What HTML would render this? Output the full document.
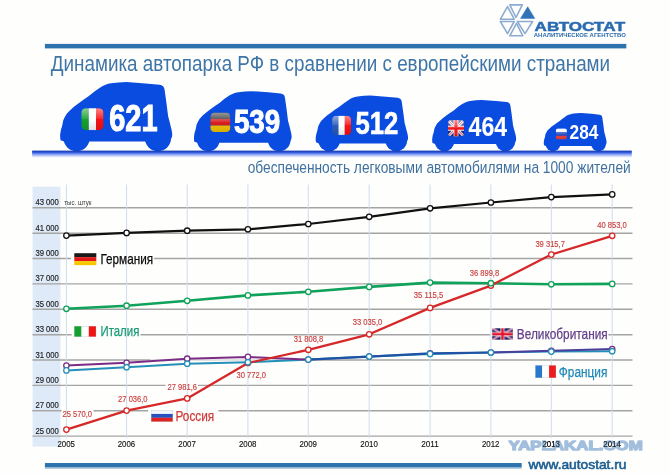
<!DOCTYPE html>
<html><head><meta charset="utf-8"><title>Автостат</title>
<style>
html,body{margin:0;padding:0;background:#fefefd;}
body{width:670px;height:475px;overflow:hidden;font-family:"Liberation Sans",sans-serif;}
svg{display:block;will-change:transform;font-family:"Liberation Sans",sans-serif;}
</style></head><body>
<svg width="670" height="475" viewBox="0 0 670 475">
<defs>
<linearGradient id="shade" x1="0" y1="0" x2="0" y2="1">
<stop offset="0" stop-color="#1a3cae"/><stop offset="0.16" stop-color="#1f48c8"/><stop offset="0.3" stop-color="#2f5ae2" stop-opacity="0.95"/><stop offset="0.6" stop-color="#4f74f0" stop-opacity="0.55"/><stop offset="1" stop-color="#6b8af6" stop-opacity="0"/>
</linearGradient>
<linearGradient id="gloss" x1="0" y1="0" x2="0" y2="1">
<stop offset="0" stop-color="#fff" stop-opacity="0.5"/><stop offset="0.48" stop-color="#fff" stop-opacity="0.1"/><stop offset="0.51" stop-color="#000" stop-opacity="0.0"/><stop offset="1" stop-color="#000" stop-opacity="0.12"/>
</linearGradient>
<g id="car"><path d="M0,52 L0.8,47.2 L1.8,44.2 L3,38.3 L4.2,35.6 L6.5,31.5 L9.9,28 L14,24.3 L18.75,20.75 L23.5,17.3 L28.2,14.1 L29.8,12.8 L34.5,9 L39.9,5.2 C41.3,4.3 42.6,3.6 44,3 C45.6,2.3 47.2,1.8 48.8,1.4 C50.2,1.1 51.6,0.8 53,0.7 L58.2,0.2 L66,-0.2 L85,1.2 L99,2.6 C102,3 103.5,4.5 103.9,6.9 L105.7,19.5 L107.5,33.8 C108.5,38 109.5,41 110.2,44.5 C111,47 111.6,50 111.6,51.7 C111.7,54 111.3,55 111.1,55.3 C110.7,56.5 110,57.5 109,58.2 L107,59.3 L4,59.3 L0.4,58 C0,56.5 -0.1,54 0,52 Z"/><circle cx="16.3" cy="56.1" r="13"/><circle cx="97.4" cy="56.1" r="13"/></g>
<clipPath id="fclip"><rect x="0" y="0" width="22" height="22" rx="4.8" ry="4.8"/></clipPath>
</defs>
<rect width="670" height="475" fill="#fefefd"/>

<g id="logo" fill="none" stroke="#8eabd0" stroke-width="1.6" stroke-linejoin="round">
<polygon points="509.8,4.9 522.3,4.9 516,17.5"/>
<polygon points="507.5,6.7 500.4,19.2 514.2,19.2"/>
<polygon points="500.4,21.5 514.2,21.5 507.5,33.6"/>
<polygon points="516.5,23.3 509.8,35.8 522.8,35.8"/>
<polygon points="517.4,21.5 532.6,21.5 525,33.6"/>
<polygon points="527.7,6.7 520.5,18.4 534.8,18.4" fill="#2f72b8" stroke="#2f72b8" stroke-width="0.5"/>
</g>
<text x="534.6" y="30.8" font-size="12.9" font-weight="bold" fill="#2b6bb0" stroke="#2b6bb0" stroke-width="0.5" textLength="90.6" lengthAdjust="spacingAndGlyphs">АВТОСТАТ</text>
<text x="533.8" y="37.3" font-size="5.3" font-weight="bold" fill="#2b6bb0" textLength="92" lengthAdjust="spacingAndGlyphs">АНАЛИТИЧЕСКОЕ АГЕНТСТВО</text>
<rect x="44.9" y="43.9" width="581.4" height="4.5" fill="#2d73ae"/>
<text x="50.8" y="70.6" font-size="22.5" fill="#3f75a6" textLength="559.3" lengthAdjust="spacingAndGlyphs">Динамика автопарка РФ в сравнении с европейскими странами</text>
<text x="247.7" y="172.6" font-size="17.2" fill="#3f719f" textLength="383" lengthAdjust="spacingAndGlyphs">обеспеченность легковыми автомобилями на 1000 жителей</text>
<use href="#car" transform="translate(60.2,82.20) scale(1.0036,1.0000)" fill="#0a4be0"/>
<use href="#car" transform="translate(194,91.30) scale(0.8747,0.8683)" fill="#0a4be0"/>
<use href="#car" transform="translate(315.7,95.70) scale(0.8272,0.8046)" fill="#0a4be0"/>
<use href="#car" transform="translate(432.2,100.20) scale(0.7520,0.7395)" fill="#0a4be0"/>
<use href="#car" transform="translate(543.8,113.20) scale(0.5622,0.5514)" fill="#0a4be0"/>
<rect x="32.1" y="150.6" width="599.7" height="7.2" fill="url(#shade)"/>
<text x="109.2" y="131.4" font-size="37" font-weight="bold" fill="#fff" stroke="#fff" stroke-width="1.11" textLength="48.3" lengthAdjust="spacingAndGlyphs">621</text>
<text x="233.9" y="132.8" font-size="33.6" font-weight="bold" fill="#fff" stroke="#fff" stroke-width="1.01" textLength="46.3" lengthAdjust="spacingAndGlyphs">539</text>
<text x="355.6" y="134.2" font-size="32.2" font-weight="bold" fill="#fff" stroke="#fff" stroke-width="0.64" textLength="42.8" lengthAdjust="spacingAndGlyphs">512</text>
<text x="468.6" y="135.6" font-size="28.3" font-weight="bold" fill="#fff" stroke="#fff" stroke-width="0.14" textLength="38.4" lengthAdjust="spacingAndGlyphs">464</text>
<text x="569.6" y="139.0" font-size="20.5" font-weight="bold" fill="#fff" stroke="#fff" stroke-width="0.00" textLength="28.9" lengthAdjust="spacingAndGlyphs">284</text>
<g transform="translate(81.3,108.2) scale(1.0091,1.0000)"><g clip-path="url(#fclip)"><rect width="7.4" height="22" fill="#14a22c"/><rect x="7.4" width="7.3" height="22" fill="#fff"/><rect x="14.7" width="7.3" height="22" fill="#fc1010"/><rect width="22" height="22" fill="url(#gloss)"/></g></g>
<g transform="translate(210.3,112.5) scale(0.9136,0.8864)"><g clip-path="url(#fclip)"><rect width="22" height="7.4" fill="#333"/><rect y="7.4" width="22" height="7.3" fill="#d81e1e"/><rect y="14.7" width="22" height="7.3" fill="#f5c400"/><rect width="22" height="22" fill="url(#gloss)"/></g></g>
<g transform="translate(332.1,115.7) scale(0.8636,0.8727)"><g clip-path="url(#fclip)"><rect width="7.4" height="22" fill="#2a5cb8"/><rect x="7.4" width="7.3" height="22" fill="#fff"/><rect x="14.7" width="7.3" height="22" fill="#fc1010"/><rect width="22" height="22" fill="url(#gloss)"/></g></g>
<g transform="translate(448,120.1) scale(0.7273,0.7409)"><g clip-path="url(#fclip)"><rect width="22" height="22" fill="#1c2a86"/><path d="M0,0L22,22M22,0L0,22" stroke="#fff" stroke-width="3.8"/><path d="M0,0L22,22M22,0L0,22" stroke="#e8283a" stroke-width="1.3"/><path d="M11,0V22M0,11H22" stroke="#fff" stroke-width="6.6"/><path d="M11,0V22M0,11H22" stroke="#f01a1e" stroke-width="4.3"/><rect width="22" height="22" fill="url(#gloss)"/></g></g>
<g transform="translate(555.8,128.4) scale(0.5045,0.5045)"><g clip-path="url(#fclip)"><rect width="22" height="7.4" fill="#f0f5ff"/><rect y="7.4" width="22" height="7.3" fill="#2a50c4"/><rect y="14.7" width="22" height="7.3" fill="#f04040"/><rect width="22" height="22" fill="url(#gloss)"/></g></g>
<rect x="32.6" y="186.6" width="27.8" height="260" fill="#deeaf8"/>
<line x1="32.5" y1="207.8" x2="632.5" y2="207.8" stroke="#a4a4a4" stroke-width="1.4"/>
<line x1="32.5" y1="233.2" x2="632.5" y2="233.2" stroke="#a4a4a4" stroke-width="1.4"/>
<line x1="32.5" y1="258.5" x2="632.5" y2="258.5" stroke="#a4a4a4" stroke-width="1.4"/>
<line x1="32.5" y1="283.9" x2="632.5" y2="283.9" stroke="#a4a4a4" stroke-width="1.4"/>
<line x1="32.5" y1="309.3" x2="632.5" y2="309.3" stroke="#a4a4a4" stroke-width="1.4"/>
<line x1="32.5" y1="334.7" x2="632.5" y2="334.7" stroke="#a4a4a4" stroke-width="1.4"/>
<line x1="32.5" y1="360.0" x2="632.5" y2="360.0" stroke="#a4a4a4" stroke-width="1.4"/>
<line x1="32.5" y1="385.4" x2="632.5" y2="385.4" stroke="#a4a4a4" stroke-width="1.4"/>
<line x1="32.5" y1="410.8" x2="632.5" y2="410.8" stroke="#a4a4a4" stroke-width="1.4"/>
<line x1="32.5" y1="436.1" x2="632.5" y2="436.1" stroke="#a4a4a4" stroke-width="1.4"/>
<rect x="71" y="256.4" width="83.0" height="4" fill="#fefefd"/>
<rect x="71.7" y="332.9" width="68.7" height="4" fill="#fefefd"/>
<rect x="148.2" y="408.7" width="70.2" height="4" fill="#fefefd"/>
<rect x="490.4" y="332.9" width="118.0" height="4" fill="#fefefd"/>
<rect x="61.5" y="408.7" width="32.0" height="4" fill="#fefefd"/>
<rect x="165.5" y="382.8" width="32.5" height="4" fill="#fefefd"/>
<rect x="32.6" y="408" width="27.8" height="5" fill="#deeaf8"/>
<line x1="32.5" y1="410.7" x2="61" y2="410.7" stroke="#a4a4a4" stroke-width="1.4"/>
<line x1="66.4" y1="184.5" x2="66.4" y2="438" stroke="#cfdcea" stroke-width="1"/>
<line x1="126.6" y1="184.5" x2="126.6" y2="438" stroke="#cfdcea" stroke-width="1"/>
<line x1="187.2" y1="184.5" x2="187.2" y2="438" stroke="#cfdcea" stroke-width="1"/>
<line x1="247.9" y1="184.5" x2="247.9" y2="438" stroke="#cfdcea" stroke-width="1"/>
<line x1="308.3" y1="184.5" x2="308.3" y2="438" stroke="#cfdcea" stroke-width="1"/>
<line x1="369.2" y1="184.5" x2="369.2" y2="438" stroke="#cfdcea" stroke-width="1"/>
<line x1="430.1" y1="184.5" x2="430.1" y2="438" stroke="#cfdcea" stroke-width="1"/>
<line x1="490.9" y1="184.5" x2="490.9" y2="438" stroke="#cfdcea" stroke-width="1"/>
<line x1="551.3" y1="184.5" x2="551.3" y2="438" stroke="#cfdcea" stroke-width="1"/>
<line x1="612.2" y1="184.5" x2="612.2" y2="438" stroke="#cfdcea" stroke-width="1"/>
<text x="35.4" y="205.3" font-size="8.5" fill="#1c1c1c" stroke="#1c1c1c" stroke-width="0.15" textLength="23.5" lengthAdjust="spacingAndGlyphs">43 000</text>
<text x="35.4" y="230.7" font-size="8.5" fill="#1c1c1c" stroke="#1c1c1c" stroke-width="0.15" textLength="23.5" lengthAdjust="spacingAndGlyphs">41 000</text>
<text x="35.4" y="256.0" font-size="8.5" fill="#1c1c1c" stroke="#1c1c1c" stroke-width="0.15" textLength="23.5" lengthAdjust="spacingAndGlyphs">39 000</text>
<text x="35.4" y="281.4" font-size="8.5" fill="#1c1c1c" stroke="#1c1c1c" stroke-width="0.15" textLength="23.5" lengthAdjust="spacingAndGlyphs">37 000</text>
<text x="35.4" y="306.8" font-size="8.5" fill="#1c1c1c" stroke="#1c1c1c" stroke-width="0.15" textLength="23.5" lengthAdjust="spacingAndGlyphs">35 000</text>
<text x="35.4" y="332.2" font-size="8.5" fill="#1c1c1c" stroke="#1c1c1c" stroke-width="0.15" textLength="23.5" lengthAdjust="spacingAndGlyphs">33 000</text>
<text x="35.4" y="357.5" font-size="8.5" fill="#1c1c1c" stroke="#1c1c1c" stroke-width="0.15" textLength="23.5" lengthAdjust="spacingAndGlyphs">31 000</text>
<text x="35.4" y="382.9" font-size="8.5" fill="#1c1c1c" stroke="#1c1c1c" stroke-width="0.15" textLength="23.5" lengthAdjust="spacingAndGlyphs">29 000</text>
<text x="35.4" y="408.3" font-size="8.5" fill="#1c1c1c" stroke="#1c1c1c" stroke-width="0.15" textLength="23.5" lengthAdjust="spacingAndGlyphs">27 000</text>
<text x="35.4" y="433.6" font-size="8.5" fill="#1c1c1c" stroke="#1c1c1c" stroke-width="0.15" textLength="23.5" lengthAdjust="spacingAndGlyphs">25 000</text>
<text x="64.2" y="205.2" font-size="6.4" fill="#3a3a3a" textLength="27.3" lengthAdjust="spacingAndGlyphs">тыс. штук</text>
<text x="57.5" y="446.8" font-size="9.4" fill="#151515" stroke="#151515" stroke-width="0.15" textLength="17.5" lengthAdjust="spacingAndGlyphs">2005</text>
<text x="117.7" y="446.8" font-size="9.4" fill="#151515" stroke="#151515" stroke-width="0.15" textLength="17.5" lengthAdjust="spacingAndGlyphs">2006</text>
<text x="178.3" y="446.8" font-size="9.4" fill="#151515" stroke="#151515" stroke-width="0.15" textLength="17.5" lengthAdjust="spacingAndGlyphs">2007</text>
<text x="239.0" y="446.8" font-size="9.4" fill="#151515" stroke="#151515" stroke-width="0.15" textLength="17.5" lengthAdjust="spacingAndGlyphs">2008</text>
<text x="299.4" y="446.8" font-size="9.4" fill="#151515" stroke="#151515" stroke-width="0.15" textLength="17.5" lengthAdjust="spacingAndGlyphs">2009</text>
<text x="360.3" y="446.8" font-size="9.4" fill="#151515" stroke="#151515" stroke-width="0.15" textLength="17.5" lengthAdjust="spacingAndGlyphs">2010</text>
<text x="421.2" y="446.8" font-size="9.4" fill="#151515" stroke="#151515" stroke-width="0.15" textLength="17.5" lengthAdjust="spacingAndGlyphs">2011</text>
<text x="482.0" y="446.8" font-size="9.4" fill="#151515" stroke="#151515" stroke-width="0.15" textLength="17.5" lengthAdjust="spacingAndGlyphs">2012</text>
<text x="542.4" y="446.8" font-size="9.4" fill="#151515" stroke="#151515" stroke-width="0.15" textLength="17.5" lengthAdjust="spacingAndGlyphs">2013</text>
<text x="603.3" y="446.8" font-size="9.4" fill="#151515" stroke="#151515" stroke-width="0.15" textLength="17.5" lengthAdjust="spacingAndGlyphs">2014</text>
<rect x="74.3" y="253.20" width="22" height="4.02" fill="#1a1a1a"/><rect x="74.3" y="257.17" width="22" height="4.02" fill="#e01818"/><rect x="74.3" y="261.13" width="22" height="4.02" fill="#f6c800"/>
<text x="100.5" y="264.1" font-size="15" fill="#0a0a0a" stroke="#0a0a0a" stroke-width="0.25" textLength="52.6" lengthAdjust="spacingAndGlyphs">Германия</text>
<rect x="74.30" y="326.2" width="7.28" height="10.5" fill="#14a02e"/><rect x="81.53" y="326.2" width="7.28" height="10.5" fill="#ffffff"/><rect x="88.77" y="326.2" width="7.28" height="10.5" fill="#f01414"/><rect x="74.55" y="326.45" width="21.2" height="10.0" fill="none" stroke="#9aa4b0" stroke-opacity="0.45" stroke-width="0.5"/>
<text x="100.5" y="335.6" font-size="14.7" fill="#1a9a78" stroke="#1a9a78" stroke-width="0.25" textLength="38.8" lengthAdjust="spacingAndGlyphs">Италия</text>
<rect x="151.2" y="410.10" width="21.6" height="3.88" fill="#f2f5fa"/><rect x="151.2" y="413.93" width="21.6" height="3.88" fill="#2450c0"/><rect x="151.2" y="417.77" width="21.6" height="3.88" fill="#e02222"/><rect x="151.45" y="410.35" width="21.1" height="11.0" fill="none" stroke="#9aa4b0" stroke-opacity="0.45" stroke-width="0.5"/>
<text x="175.5" y="420.6" font-size="14.8" fill="#d03a3a" stroke="#d03a3a" stroke-width="0.25" textLength="38.7" lengthAdjust="spacingAndGlyphs">Россия</text>
<svg x="492.2" y="328.3" width="20.7" height="11.5" viewBox="0 0 20.7 11.5"><rect width="20.7" height="11.5" fill="#1a1e66"/><path d="M0,0L20.7,11.5M20.7,0L0,11.5" stroke="#f0dcea" stroke-width="1.8"/><path d="M0,0L20.7,11.5M20.7,0L0,11.5" stroke="#e0506a" stroke-width="0.7"/><path d="M10.35,0V11.5" stroke="#fff" stroke-width="4.0"/><path d="M0,5.75H20.7" stroke="#fff" stroke-width="4.0"/><path d="M10.35,0V11.5" stroke="#e6122c" stroke-width="2.5"/><path d="M0,5.75H20.7" stroke="#e6122c" stroke-width="2.5"/></svg>
<text x="516.8" y="339" font-size="14.2" fill="#64408a" stroke="#64408a" stroke-width="0.25" textLength="90.9" lengthAdjust="spacingAndGlyphs">Великобритания</text>
<rect x="535.40" y="365.4" width="6.88" height="12.4" fill="#2878cc"/><rect x="542.23" y="365.4" width="6.88" height="12.4" fill="#ffffff"/><rect x="549.07" y="365.4" width="6.88" height="12.4" fill="#f01c1c"/><rect x="535.65" y="365.65" width="20.0" height="11.9" fill="none" stroke="#9aa4b0" stroke-opacity="0.45" stroke-width="0.5"/>
<text x="558.8" y="376.8" font-size="14.7" fill="#2088b8" stroke="#2088b8" stroke-width="0.25" textLength="48.5" lengthAdjust="spacingAndGlyphs">Франция</text>
<text x="62.5" y="416.7"  font-size="8.5" fill="#c93d3d" stroke="#c93d3d" stroke-width="0.15" textLength="29.5" lengthAdjust="spacingAndGlyphs">25 570,0</text>
<text x="118.1" y="401.7"  font-size="8.5" fill="#c93d3d" stroke="#c93d3d" stroke-width="0.15" textLength="29.5" lengthAdjust="spacingAndGlyphs">27 036,0</text>
<text x="167.5" y="389.6"  font-size="8.5" fill="#c93d3d" stroke="#c93d3d" stroke-width="0.15" textLength="29.5" lengthAdjust="spacingAndGlyphs">27 981,6</text>
<text x="236.5" y="377.8"  font-size="8.5" fill="#c93d3d" stroke="#c93d3d" stroke-width="0.15" textLength="29.5" lengthAdjust="spacingAndGlyphs">30 772,0</text>
<text x="293.7" y="342.1"  font-size="8.5" fill="#c93d3d" stroke="#c93d3d" stroke-width="0.15" textLength="29.5" lengthAdjust="spacingAndGlyphs">31 808,8</text>
<text x="352.8" y="325.3"  font-size="8.5" fill="#c93d3d" stroke="#c93d3d" stroke-width="0.15" textLength="29.5" lengthAdjust="spacingAndGlyphs">33 035,0</text>
<text x="413.8" y="298.4"  font-size="8.5" fill="#c93d3d" stroke="#c93d3d" stroke-width="0.15" textLength="29.5" lengthAdjust="spacingAndGlyphs">35 115,5</text>
<text x="469.7" y="275.6"  font-size="8.5" fill="#c93d3d" stroke="#c93d3d" stroke-width="0.15" textLength="29.5" lengthAdjust="spacingAndGlyphs">36 899,8</text>
<text x="535.4" y="247"  font-size="8.5" fill="#c93d3d" stroke="#c93d3d" stroke-width="0.15" textLength="29.5" lengthAdjust="spacingAndGlyphs">39 315,7</text>
<text x="597.2" y="227.9"  font-size="8.5" fill="#c93d3d" stroke="#c93d3d" stroke-width="0.15" textLength="29.5" lengthAdjust="spacingAndGlyphs">40 853,0</text>
<rect x="150" y="358.8" width="150" height="2.6" fill="#fefefd" fill-opacity="0.6"/>
<polyline points="66.4,370.4 126.6,367.2 187.2,363.7 247.9,362.3 308.3,359.6 369.2,356.6 430.1,353.9 490.9,352.5 551.3,351.6 612.2,351.2" fill="none" stroke="#2490b8" stroke-width="2.0" stroke-linejoin="round" />
<polyline points="308.3,359.6 369.2,356.6 430.1,353.4 490.9,352.5" fill="none" stroke="#1f52a4" stroke-width="2.1" stroke-linejoin="round"/>
<polyline points="490.9,352.5 551.3,350.8 612.2,349.0" fill="none" stroke="#4a3f9c" stroke-width="2.1" stroke-linejoin="round"/>
<polyline points="66.4,365.5 126.6,362.8 187.2,358.7 247.9,356.9 308.3,359.6" fill="none" stroke="#7b2d86" stroke-width="2.0" stroke-linejoin="round"/>
<polyline points="66.4,308.8 126.6,305.7 187.2,300.8 247.9,295.4 308.3,291.8 369.2,286.9 430.1,282.6 490.9,283.2 551.3,284.3 612.2,283.9" fill="none" stroke="#0fa25a" stroke-width="2.6" stroke-linejoin="round" />
<polyline points="66.4,235.6 126.6,232.9 187.2,230.7 247.9,229.3 308.3,224.0 369.2,216.8 430.1,208.3 490.9,202.5 551.3,197.1 612.2,194.4" fill="none" stroke="#111" stroke-width="2.2" stroke-linejoin="round" />
<polyline points="66.4,429.6 126.6,410.6 187.2,398.4 247.9,363.0 308.3,349.8 369.2,334.3 430.1,307.9 490.9,285.6 551.3,254.6 612.2,235.8" fill="none" stroke="#d62828" stroke-width="2.3" stroke-linejoin="round" />
<circle cx="66.4" cy="429.6" r="2.7" fill="#fff" stroke="#d62828" stroke-width="1.3" /><circle cx="126.6" cy="410.6" r="2.7" fill="#fff" stroke="#d62828" stroke-width="1.3" /><circle cx="187.2" cy="398.4" r="2.7" fill="#fff" stroke="#d62828" stroke-width="1.3" /><circle cx="247.9" cy="363.0" r="2.7" fill="#fff" stroke="#d62828" stroke-width="1.3" /><circle cx="308.3" cy="349.8" r="2.7" fill="#fff" stroke="#d62828" stroke-width="1.3" /><circle cx="369.2" cy="334.3" r="2.7" fill="#fff" stroke="#d62828" stroke-width="1.3" /><circle cx="430.1" cy="307.9" r="2.7" fill="#fff" stroke="#d62828" stroke-width="1.3" /><circle cx="490.9" cy="285.6" r="2.7" fill="#fff" stroke="#d62828" stroke-width="1.3" /><circle cx="551.3" cy="254.6" r="2.7" fill="#fff" stroke="#d62828" stroke-width="1.3" /><circle cx="612.2" cy="235.8" r="2.7" fill="#fff" stroke="#d62828" stroke-width="1.3" />
<circle cx="66.4" cy="365.5" r="2.7" fill="#fff" stroke="#7b2d86" stroke-width="1.3" /><circle cx="126.6" cy="362.8" r="2.7" fill="#fff" stroke="#7b2d86" stroke-width="1.3" /><circle cx="187.2" cy="358.7" r="2.7" fill="#fff" stroke="#7b2d86" stroke-width="1.3" /><circle cx="247.9" cy="356.9" r="2.7" fill="#fff" stroke="#7b2d86" stroke-width="1.3" /><circle cx="308.3" cy="359.6" r="2.7" fill="#fff" stroke="#7b2d86" stroke-width="1.3" /><circle cx="369.2" cy="356.6" r="2.7" fill="#fff" stroke="#7b2d86" stroke-width="1.3" /><circle cx="430.1" cy="353.4" r="2.7" fill="#fff" stroke="#7b2d86" stroke-width="1.3" /><circle cx="490.9" cy="352.5" r="2.7" fill="#fff" stroke="#7b2d86" stroke-width="1.3" /><circle cx="551.3" cy="350.8" r="2.7" fill="#fff" stroke="#7b2d86" stroke-width="1.3" /><circle cx="612.2" cy="349.0" r="2.7" fill="#fff" stroke="#7b2d86" stroke-width="1.3" />
<circle cx="66.4" cy="370.4" r="2.7" fill="#fff" stroke="#2490b8" stroke-width="1.3" /><circle cx="126.6" cy="367.2" r="2.7" fill="#fff" stroke="#2490b8" stroke-width="1.3" /><circle cx="187.2" cy="363.7" r="2.7" fill="#fff" stroke="#2490b8" stroke-width="1.3" /><circle cx="247.9" cy="362.3" r="2.7" fill="#fff" stroke="#2490b8" stroke-width="1.3" /><circle cx="308.3" cy="359.6" r="2.7" fill="#fff" stroke="#2490b8" stroke-width="1.3" /><circle cx="369.2" cy="356.6" r="2.7" fill="#fff" stroke="#2490b8" stroke-width="1.3" /><circle cx="430.1" cy="353.9" r="2.7" fill="#fff" stroke="#2490b8" stroke-width="1.3" /><circle cx="490.9" cy="352.5" r="2.7" fill="#fff" stroke="#2490b8" stroke-width="1.3" /><circle cx="551.3" cy="351.6" r="2.7" fill="#fff" stroke="#2490b8" stroke-width="1.3" /><circle cx="612.2" cy="351.2" r="2.7" fill="#fff" stroke="#2490b8" stroke-width="1.3" />
<circle cx="66.4" cy="308.8" r="2.7" fill="#fff" stroke="#0fa25a" stroke-width="1.3" /><circle cx="126.6" cy="305.7" r="2.7" fill="#fff" stroke="#0fa25a" stroke-width="1.3" /><circle cx="187.2" cy="300.8" r="2.7" fill="#fff" stroke="#0fa25a" stroke-width="1.3" /><circle cx="247.9" cy="295.4" r="2.7" fill="#fff" stroke="#0fa25a" stroke-width="1.3" /><circle cx="308.3" cy="291.8" r="2.7" fill="#fff" stroke="#0fa25a" stroke-width="1.3" /><circle cx="369.2" cy="286.9" r="2.7" fill="#fff" stroke="#0fa25a" stroke-width="1.3" /><circle cx="430.1" cy="282.6" r="2.7" fill="#fff" stroke="#0fa25a" stroke-width="1.3" /><circle cx="490.9" cy="283.2" r="2.7" fill="#fff" stroke="#0fa25a" stroke-width="1.3" /><circle cx="551.3" cy="284.3" r="2.7" fill="#fff" stroke="#0fa25a" stroke-width="1.3" /><circle cx="612.2" cy="283.9" r="2.7" fill="#fff" stroke="#0fa25a" stroke-width="1.3" />
<circle cx="66.4" cy="235.6" r="2.7" fill="#fff" stroke="#111" stroke-width="1.3" /><circle cx="126.6" cy="232.9" r="2.7" fill="#fff" stroke="#111" stroke-width="1.3" /><circle cx="187.2" cy="230.7" r="2.7" fill="#fff" stroke="#111" stroke-width="1.3" /><circle cx="247.9" cy="229.3" r="2.7" fill="#fff" stroke="#111" stroke-width="1.3" /><circle cx="308.3" cy="224.0" r="2.7" fill="#fff" stroke="#111" stroke-width="1.3" /><circle cx="369.2" cy="216.8" r="2.7" fill="#fff" stroke="#111" stroke-width="1.3" /><circle cx="430.1" cy="208.3" r="2.7" fill="#fff" stroke="#111" stroke-width="1.3" /><circle cx="490.9" cy="202.5" r="2.7" fill="#fff" stroke="#111" stroke-width="1.3" /><circle cx="551.3" cy="197.1" r="2.7" fill="#fff" stroke="#111" stroke-width="1.3" /><circle cx="612.2" cy="194.4" r="2.7" fill="#fff" stroke="#111" stroke-width="1.3" />
<rect x="44.9" y="463" width="476.8" height="4.1" fill="#2d73ae"/><rect x="44.9" y="467.1" width="476.8" height="1.6" fill="#2d73ae" fill-opacity="0.5"/>
<text x="528.6" y="468.6" font-size="12.1" fill="#1d5f92" stroke="#1d5f92" stroke-width="0.55" textLength="97.9" lengthAdjust="spacingAndGlyphs">www.autostat.ru</text>
<g opacity="0.72"><text x="508.5" y="449.8" font-size="12.9" font-weight="bold" fill="#7fa6d0" stroke="#7fa6d0" stroke-width="1.3" stroke-linejoin="round" textLength="134.2" lengthAdjust="spacingAndGlyphs">YAPLAKAL.COM</text></g>
<text x="542.4" y="446.8" font-size="9.4" fill="#151515" fill-opacity="0.75" textLength="17.5" lengthAdjust="spacingAndGlyphs">2013</text>
<text x="603.3" y="446.8" font-size="9.4" fill="#151515" fill-opacity="0.75" textLength="17.5" lengthAdjust="spacingAndGlyphs">2014</text>
</svg></body></html>
